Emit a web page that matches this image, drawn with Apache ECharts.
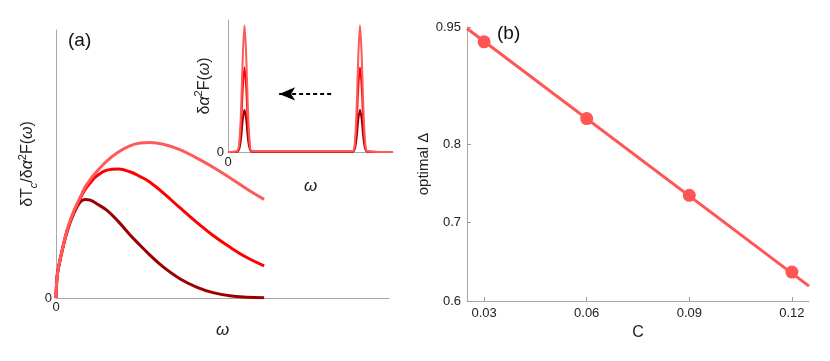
<!DOCTYPE html>
<html><head><meta charset="utf-8">
<script src="https://cdn.jsdelivr.net/npm/echarts@6/dist/echarts.min.js"></script>
<style>html,body{margin:0;padding:0;background:#fff}#c{width:830px;height:361px}</style>
</head><body><div id="c"></div>
<script>
// Panel (a): main curves
const omegaA = [0, 0.005, 0.0125, 0.03, 0.055, 0.085, 0.115, 0.14, 0.165, 0.195, 0.245, 0.30, 0.355, 0.405, 0.45, 0.515, 0.595, 0.675, 0.755, 0.835, 0.915, 1.0];
const tcLight = [0, 0.078, 0.116, 0.18, 0.258, 0.323, 0.374, 0.414, 0.443, 0.471, 0.512, 0.545, 0.568, 0.578, 0.580, 0.574, 0.554, 0.523, 0.488, 0.449, 0.408, 0.368];
const tcRed   = [0, 0.078, 0.116, 0.18, 0.257, 0.321, 0.370, 0.405, 0.430, 0.455, 0.477, 0.481, 0.471, 0.453, 0.433, 0.392, 0.337, 0.283, 0.233, 0.190, 0.152, 0.120];
const tcDark  = [0, 0.078, 0.115, 0.178, 0.252, 0.315, 0.357, 0.368, 0.365, 0.352, 0.327, 0.285, 0.236, 0.196, 0.161, 0.116, 0.072, 0.041, 0.020, 0.008, 0.003, 0.001];
// Inset: alpha^2F peaks
const omegaIn = [0, 0.055, 0.07, 0.08, 0.09, 0.1, 0.11, 0.12, 0.13, 0.145, 0.755, 0.77, 0.78, 0.79, 0.8, 0.81, 0.82, 0.83, 0.845, 1.0];
const a2fLight = [0, 0.006, 0.10, 0.35, 0.74, 0.96, 0.74, 0.35, 0.10, 0.006, 0.006, 0.10, 0.35, 0.74, 0.96, 0.74, 0.35, 0.10, 0.006, 0];
const a2fRed   = [0, 0.004, 0.064, 0.23, 0.50, 0.64, 0.50, 0.23, 0.064, 0.004, 0.004, 0.064, 0.23, 0.50, 0.64, 0.50, 0.23, 0.064, 0.004, 0];
const a2fDark  = [0, 0.002, 0.032, 0.115, 0.25, 0.32, 0.25, 0.115, 0.032, 0.002, 0.002, 0.032, 0.115, 0.25, 0.32, 0.25, 0.115, 0.032, 0.002, 0];
const arrowFrom = [0.625, 0.44];
const arrowTo = [0.31, 0.44];
// Panel (b)
const cValues = [0.03, 0.06, 0.09, 0.12];
const optDelta = [0.931, 0.833, 0.735, 0.637];
const fitC = [0.025, 0.125];
const fitDelta = [0.948, 0.619];
const bXTicks = [0.03, 0.06, 0.09, 0.12];
const bYTicks = [0.6, 0.7, 0.8, 0.95];

const FONT = 'Liberation Sans, Arial, sans-serif';
const C_LIGHT = '#ff5a5a', C_RED = '#ff0000', C_DARK = '#9a0000', C_B = '#ff5555';
const axisGray = {lineStyle: {color: '#a8a8a8', width: 1}};
const zip = (xs, ys) => xs.map((x, i) => [x, ys[i]]);
const zeroOnly = {show: true, customValues: [0], color: '#222', fontSize: 13, fontFamily: FONT};

const nameRich = {
  n: {fontSize: 16, fontFamily: FONT, color: '#222', lineHeight: 22, verticalAlign: 'middle'},
  i: {fontSize: 16, fontFamily: FONT, fontStyle: 'italic', color: '#222', lineHeight: 22, verticalAlign: 'middle'},
  s: {fontSize: 11, fontFamily: FONT, fontStyle: 'italic', color: '#222', lineHeight: 22, verticalAlign: 'bottom'},
  p: {fontSize: 11, fontFamily: FONT, color: '#222', lineHeight: 22, verticalAlign: 'top'}
};

const chart = echarts.init(document.getElementById('c'), null, {renderer: 'canvas'});
chart.setOption({
  animation: false,
  backgroundColor: '#fff',
  grid: [
    {left: 56, top: 30, width: 333, height: 268},
    {left: 228, top: 20, width: 165, height: 132},
    {left: 467, top: 27, width: 342, height: 274}
  ],
  xAxis: [
    {gridIndex: 0, type: 'value', min: 0, max: 1.6, axisLine: axisGray, axisTick: {show: false}, splitLine: {show: false},
     axisLabel: Object.assign({margin: 3}, zeroOnly),
     name: 'ω', nameLocation: 'middle', nameGap: 24, nameTextStyle: {fontSize: 17, fontStyle: 'italic', fontFamily: FONT, color: '#222'}},
    {gridIndex: 1, type: 'value', min: 0, max: 1, axisLine: axisGray, axisTick: {show: false}, splitLine: {show: false},
     axisLabel: Object.assign({margin: 4}, zeroOnly),
     name: 'ω', nameLocation: 'middle', nameGap: 26, nameTextStyle: {fontSize: 17, fontStyle: 'italic', fontFamily: FONT, color: '#222'}},
    {gridIndex: 2, type: 'value', min: 0.025, max: 0.125, axisLine: axisGray, splitLine: {show: false},
     axisTick: {show: true, inside: true, length: 4, customValues: bXTicks, lineStyle: {color: '#999'}},
     axisLabel: {customValues: bXTicks, margin: 6, fontSize: 13, fontFamily: FONT, color: '#222'},
     name: 'C', nameLocation: 'middle', nameGap: 24, nameTextStyle: {fontSize: 16, fontFamily: FONT, color: '#222'}}
  ],
  yAxis: [
    {gridIndex: 0, type: 'value', min: 0, max: 1, axisLine: axisGray, axisTick: {show: false}, splitLine: {show: false},
     axisLabel: Object.assign({margin: 4}, zeroOnly),
     name: '{n|δT}{s|c}{n|/δ}{i|α}{p|2}{n|F(}{i|ω}{n|)}', nameLocation: 'middle', nameGap: 17, nameRotate: 90,
     nameTextStyle: {rich: nameRich}},
    {gridIndex: 1, type: 'value', min: 0, max: 1, axisLine: axisGray, axisTick: {show: false}, splitLine: {show: false},
     axisLabel: Object.assign({margin: 4}, zeroOnly),
     name: '{n|δ}{i|α}{p|2}{n|F(}{i|ω}{n|)}', nameLocation: 'middle', nameGap: 12, nameRotate: 90,
     nameTextStyle: {rich: nameRich}},
    {gridIndex: 2, type: 'value', min: 0.6, max: 0.95, axisLine: axisGray, splitLine: {show: false},
     axisTick: {show: true, inside: true, length: 4, customValues: bYTicks, lineStyle: {color: '#999'}},
     axisLabel: {customValues: bYTicks, margin: 6, fontSize: 13, fontFamily: FONT, color: '#222'},
     name: 'optimal Δ', nameLocation: 'middle', nameGap: 35, nameTextStyle: {fontSize: 15, fontFamily: FONT, color: '#222'}}
  ],
  series: [
    {type: 'line', xAxisIndex: 0, yAxisIndex: 0, data: zip(omegaA, tcDark), smooth: 0.4, showSymbol: false, lineStyle: {color: C_DARK, width: 3}},
    {type: 'line', xAxisIndex: 0, yAxisIndex: 0, data: zip(omegaA, tcRed), smooth: 0.4, showSymbol: false, lineStyle: {color: C_RED, width: 3}},
    {type: 'line', xAxisIndex: 0, yAxisIndex: 0, data: zip(omegaA, tcLight), smooth: 0.4, showSymbol: false, lineStyle: {color: C_LIGHT, width: 3}},
    {type: 'line', xAxisIndex: 1, yAxisIndex: 1, data: zip(omegaIn, a2fDark), smooth: 0.3, showSymbol: false, lineStyle: {color: C_DARK, width: 2}},
    {type: 'line', xAxisIndex: 1, yAxisIndex: 1, data: zip(omegaIn, a2fRed), smooth: 0.3, showSymbol: false, lineStyle: {color: C_RED, width: 2}},
    {type: 'line', xAxisIndex: 1, yAxisIndex: 1, data: zip(omegaIn, a2fLight), smooth: 0.3, showSymbol: false, lineStyle: {color: C_LIGHT, width: 2},
     markLine: {silent: true, symbol: ['none', 'arrow'], symbolSize: [10, 16], label: {show: false},
       lineStyle: {color: '#000', type: [4, 3], width: 2},
       data: [[{coord: arrowFrom}, {coord: arrowTo}]]}},
    {type: 'line', xAxisIndex: 2, yAxisIndex: 2, data: zip(fitC, fitDelta), showSymbol: false, lineStyle: {color: C_B, width: 3}},
    {type: 'scatter', xAxisIndex: 2, yAxisIndex: 2, data: zip(cValues, optDelta), symbol: 'circle', symbolSize: 13, itemStyle: {color: C_B, opacity: 1}}
  ],
  graphic: [
    {type: 'text', left: 68, top: 31, style: {text: '(a)', fontSize: 19, fontFamily: FONT, fill: '#111'}},
    {type: 'text', left: 497, top: 24, style: {text: '(b)', fontSize: 19, fontFamily: FONT, fill: '#111'}}
  ]
});
</script></body></html>
